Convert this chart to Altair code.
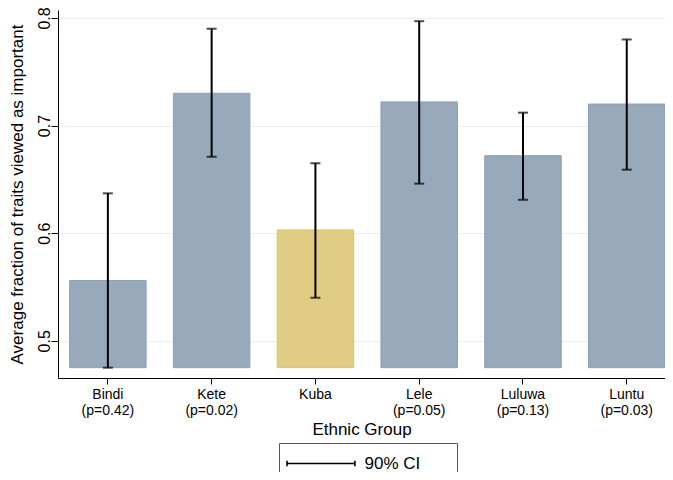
import altair as alt
import pandas as pd

groups = ["Bindi", "Kete", "Kuba", "Lele", "Luluwa", "Luntu"]
pvals = ["(p=0.42)", "(p=0.02)", "", "(p=0.05)", "(p=0.13)", "(p=0.03)"]
means = [0.556, 0.730, 0.603, 0.722, 0.672, 0.720]
ci_lo = [0.475, 0.671, 0.540, 0.646, 0.631, 0.659]
ci_hi = [0.637, 0.790, 0.665, 0.797, 0.712, 0.780]
y_ticks = [0.5, 0.6, 0.7, 0.8]
bar_base = 0.475
highlight = "Kuba"

labels = [g + ("\n" + p if p else "") for g, p in zip(groups, pvals)]
df = pd.DataFrame({"group": groups, "label": labels, "mean": means,
                   "lo": ci_lo, "hi": ci_hi})

FONT = "Liberation Sans"

x_enc = alt.X(
    "label:N", sort=labels, title="Ethnic Group",
    scale=alt.Scale(paddingInner=0.263, paddingOuter=0.056, align=1.0),
    axis=alt.Axis(labelExpr="split(datum.label, '\\n')", labelAngle=0,
                  labelFontSize=14, labelLineHeight=16, labelPadding=3,
                  tickSize=6, titleFontSize=17, titlePadding=4,
                  titleFontWeight="normal", domainColor="black",
                  tickColor="black", labelColor="black", titleColor="black"),
)
y_scale = alt.Scale(domain=[0.4654, 0.8074], nice=False, zero=False)

bars = alt.Chart(df).mark_bar(strokeWidth=1).encode(
    x=x_enc,
    y=alt.Y("mean:Q", scale=y_scale,
            title="Average fraction of traits viewed as important",
            axis=alt.Axis(values=y_ticks, format=".1f", labelAngle=270,
                          labelAlign="center", labelBaseline="alphabetic",
                          labelFontSize=16, labelPadding=2, tickSize=7,
                          titleFontSize=17, titleFontWeight="normal",
                          titlePadding=10, grid=True, gridColor="#e6eef1",
                          gridWidth=1, domainColor="black", tickColor="black",
                          labelColor="black", titleColor="black")),
    y2=alt.datum(bar_base),
    fill=alt.condition(alt.datum.group == highlight, alt.value("#e0cd83"),
                       alt.value("#97a9bb")),
    stroke=alt.condition(alt.datum.group == highlight, alt.value("#d8c46d"),
                         alt.value("#8aa0b4")),
)

rules = alt.Chart(df).transform_calculate(ci="'90% CI'").mark_rule(
    strokeWidth=2).encode(
    x=alt.X("label:N", sort=labels),
    y=alt.Y("lo:Q", scale=y_scale),
    y2="hi:Q",
    stroke=alt.Stroke(
        "ci:N", scale=alt.Scale(range=["black"]), title=None,
        legend=alt.Legend(
            orient="none", legendX=221, legendY=433, direction="horizontal",
            symbolType="M-2.94,-0.64V0.64M-2.94,0H13.06M13.06,-0.64V0.64",
            symbolSize=72, symbolStrokeWidth=1.6, labelFontSize=17,
            labelOffset=56.5, labelColor="black", padding=12,
            strokeColor="#555555",
            labelExpr="datum.label + '\u2800\u2800'")),
)

cap_lo = alt.Chart(df).mark_tick(orient="horizontal", size=10, thickness=2,
                                 color="black").encode(
    x=alt.X("label:N", sort=labels), y=alt.Y("lo:Q", scale=y_scale))
cap_hi = alt.Chart(df).mark_tick(orient="horizontal", size=10, thickness=2,
                                 color="black").encode(
    x=alt.X("label:N", sort=labels), y=alt.Y("hi:Q", scale=y_scale))

chart = alt.layer(bars, rules, cap_lo, cap_hi).properties(
    width=607, height=368,
    autosize=alt.AutoSizeParams(type="none"),
    padding={"left": 50, "top": 2, "right": 0, "bottom": 94},
).configure(font=FONT).configure_view(strokeOpacity=0)

chart.save("out.html", embed_options={"renderer": "svg", "actions": False})
